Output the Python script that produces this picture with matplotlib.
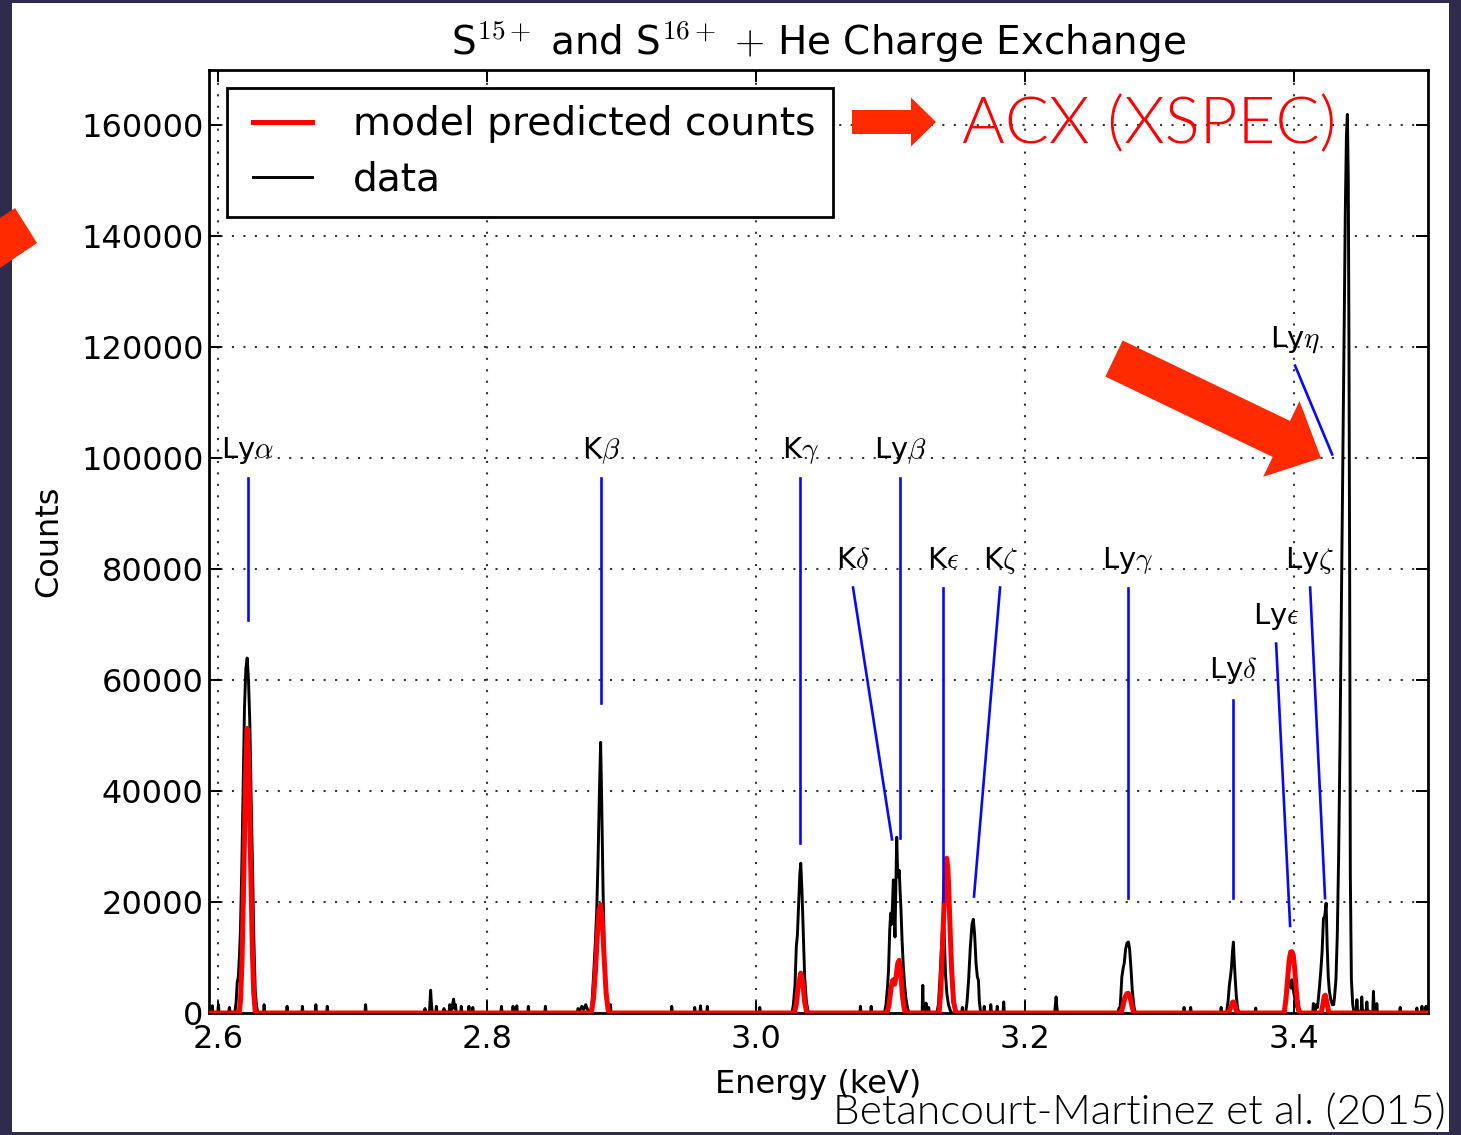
import matplotlib
matplotlib.use('Agg')
import matplotlib.pyplot as plt
from matplotlib.patches import Rectangle, FancyArrow, Polygon
from matplotlib.legend_handler import HandlerLine2D

plt.rcParams['mathtext.fontset'] = 'cm'
plt.rcParams['font.family'] = ['DejaVu Sans']

# ---------------- data ----------------
data_points = [
    (2.5930, 0), (2.5950, 0), (2.5955, 1300), (2.5960, 0),
    (2.5995, 0), (2.6000, 1500), (2.6005, 0),
    (2.6075, 0), (2.6082, 1000), (2.6088, 0),
    # Ly alpha
    (2.6122, 0), (2.6132, 2000), (2.6140, 5500), (2.6148, 6500), (2.6156, 10000),
    (2.6164, 15000), (2.6174, 26000), (2.6184, 40000), (2.6194, 55000), (2.6204, 62000),
    (2.6214, 64000), (2.6224, 60000), (2.6234, 52000), (2.6244, 38000), (2.6254, 26000),
    (2.6264, 13000), (2.6274, 4000), (2.6284, 1200), (2.6294, 0),
    (2.6335, 0), (2.6340, 1500), (2.6345, 0),
    (2.6506, 0), (2.6511, 1200), (2.6516, 0),
    (2.6620, 0), (2.6625, 1200), (2.6630, 0),
    (2.6720, 0), (2.6725, 1500), (2.6730, 0),
    (2.6805, 0), (2.6810, 1200), (2.6815, 0),
    (2.7090, 0), (2.7095, 1500), (2.7100, 0),
    (2.7530, 0), (2.7537, 800), (2.7545, 0), (2.7570, 0), (2.7575, 2500), (2.7579, 4100),
    (2.7584, 2000), (2.7590, 300), (2.7600, 0), (2.7617, 0), (2.7622, 1200), (2.7627, 0),
    (2.7673, 0), (2.7678, 800), (2.7683, 300), (2.7716, 0), (2.7721, 1500), (2.7735, 600),
    (2.7750, 2500), (2.7757, 800), (2.7764, 1500), (2.7770, 0), (2.7802, 0), (2.7807, 1200),
    (2.7812, 0), (2.7859, 0), (2.7864, 1200), (2.7869, 0), (2.7888, 0), (2.7893, 1000), (2.7898, 0),
    (2.8101, 0), (2.8106, 1200), (2.8111, 0), (2.8187, 0), (2.8192, 1200), (2.8197, 300),
    (2.8215, 0), (2.8220, 1300), (2.8225, 0), (2.8301, 0), (2.8306, 1200), (2.8311, 0),
    (2.8428, 0), (2.8433, 1200), (2.8438, 0),
    (2.8670, 0), (2.8675, 800), (2.8690, 500), (2.8704, 1200), (2.8718, 600), (2.8733, 1500), (2.8745, 700),
    # K beta
    (2.8770, 0), (2.8780, 2000), (2.8792, 7000), (2.8805, 13000), (2.8815, 18500), (2.8825, 28000),
    (2.8835, 40000), (2.8844, 48800), (2.8852, 38000), (2.8862, 22000), (2.8872, 10000),
    (2.8882, 3500), (2.8895, 1000), (2.8905, 0),
    (2.8912, 0), (2.8917, 1500), (2.8922, 0),
    (2.9368, 0), (2.9373, 1200), (2.9378, 0),
    (2.9539, 0), (2.9544, 1000), (2.9549, 0), (2.9582, 0), (2.9587, 1300), (2.9592, 0),
    (2.9633, 0), (2.9638, 1200), (2.9643, 0),
    (3.0023, 0), (3.0028, 1000), (3.0033, 0),
    # K gamma
    (3.0268, 0), (3.0278, 1500), (3.0290, 5000), (3.0300, 12000), (3.0308, 14000), (3.0318, 20000),
    (3.0326, 25000), (3.0333, 27000), (3.0342, 22000), (3.0352, 14000), (3.0362, 6500),
    (3.0375, 2000), (3.0390, 0),
    (3.0772, 0), (3.0777, 1200), (3.0782, 0), (3.0852, 0), (3.0857, 1200), (3.0862, 0),
    # K delta / Ly beta
    (3.0955, 0), (3.0967, 1500), (3.0978, 4500), (3.0986, 7700), (3.0995, 15000), (3.1002, 18000),
    (3.1010, 16000), (3.1016, 20000), (3.1022, 24000), (3.1028, 19000), (3.1034, 13700),
    (3.1040, 22000), (3.1047, 31700), (3.1053, 26000), (3.1059, 24500), (3.1066, 25700),
    (3.1072, 22000), (3.1078, 19000), (3.1087, 13000), (3.1096, 8500), (3.1106, 5000),
    (3.1116, 2500), (3.1128, 800), (3.1140, 0),
    (3.1236, 0), (3.1241, 5000), (3.1246, 0), (3.1260, 0), (3.1265, 1800), (3.1270, 0),
    (3.1280, 0), (3.1285, 1000), (3.1290, 0),
    # K epsilon
    (3.1345, 0), (3.1357, 1500), (3.1368, 6000), (3.1378, 11000), (3.1387, 15000), (3.1394, 17100),
    (3.1402, 13000), (3.1410, 7000), (3.1420, 3500), (3.1432, 1500), (3.1445, 500), (3.1455, 0),
    (3.1530, 0), (3.1535, 1000), (3.1540, 0),
    # K zeta
    (3.1560, 0), (3.1570, 2000), (3.1582, 6000), (3.1595, 12000), (3.1607, 16000), (3.1617, 16900),
    (3.1627, 14000), (3.1637, 9000), (3.1647, 6500), (3.1655, 5900), (3.1662, 2000), (3.1672, 0),
    (3.1693, 0), (3.1698, 1200), (3.1703, 0), (3.1742, 0), (3.1747, 1500), (3.1752, 0),
    (3.1790, 0), (3.1795, 1200), (3.1800, 0), (3.1838, 0), (3.1843, 2000), (3.1848, 0),
    (3.2222, 0), (3.2228, 1500), (3.2233, 2900), (3.2238, 1200), (3.2244, 0),
    # Ly gamma
    (3.2695, 0), (3.2700, 800), (3.2706, 500), (3.2712, 2000), (3.2722, 6500), (3.2732, 8100),
    (3.2740, 9000), (3.2750, 11500), (3.2760, 12600), (3.2771, 12800), (3.2780, 11500),
    (3.2790, 8000), (3.2800, 4000), (3.2812, 1200), (3.2822, 0),
    (3.3180, 0), (3.3185, 1000), (3.3190, 0), (3.3229, 0), (3.3234, 1000), (3.3239, 0),
    (3.3456, 0), (3.3461, 1000), (3.3466, 0),
    # Ly delta
    (3.3500, 0), (3.3512, 2000), (3.3522, 5000), (3.3529, 6300), (3.3537, 8000), (3.3545, 11000),
    (3.3552, 12800), (3.3558, 9500), (3.3566, 6000), (3.3574, 3000), (3.3584, 800), (3.3594, 0),
    (3.3713, 0), (3.3718, 900), (3.3723, 0),
    # Ly epsilon
    (3.3925, 0), (3.3937, 1500), (3.3947, 3800), (3.3957, 5000), (3.3965, 6000), (3.3972, 5000),
    (3.3980, 4500), (3.3988, 6000), (3.3996, 4500), (3.4006, 3000), (3.4018, 1500), (3.4030, 500),
    (3.4040, 0),
    (3.4142, 0), (3.4147, 1700), (3.4152, 0),
    # Ly zeta + strong line
    (3.4160, 0), (3.4168, 1500), (3.4178, 1000), (3.4190, 4000), (3.4202, 7500), (3.4212, 11000),
    (3.4222, 17000), (3.4232, 17500), (3.4242, 19800), (3.4250, 12000), (3.4258, 6500),
    (3.4266, 4000), (3.4276, 2500), (3.4288, 1500), (3.4298, 1500), (3.4305, 3000),
    (3.4315, 6000), (3.4325, 14000), (3.4335, 28000), (3.4345, 48000), (3.4355, 72000),
    (3.4365, 95000), (3.4375, 120000), (3.4385, 145000), (3.4393, 158000), (3.4400, 162000),
    (3.4407, 150000), (3.4412, 120000), (3.4417, 80000), (3.4422, 25000), (3.4430, 6000),
    (3.4440, 1500), (3.4450, 0),
    (3.4466, 0), (3.4471, 2400), (3.4476, 500), (3.4502, 0), (3.4507, 2900), (3.4512, 600),
    (3.4540, 0), (3.4545, 2000), (3.4550, 400), (3.4589, 0), (3.4594, 3900), (3.4599, 800),
    (3.4614, 0), (3.4619, 1700), (3.4624, 0),
    (3.4788, 0), (3.4793, 1000), (3.4798, 0), (3.4912, 0), (3.4917, 900), (3.4922, 0),
    (3.4950, 0), (3.4955, 1200), (3.4960, 0), (3.4980, 0), (3.4985, 1200), (3.4990, 0),
    (3.5000, 0),
]

model_points = [
    (2.5930, 0),
    (2.6155, 0), (2.6165, 2500), (2.6175, 9000), (2.6185, 20000), (2.6195, 33000), (2.6205, 45000),
    (2.6214, 51300), (2.6223, 47000), (2.6233, 36000), (2.6243, 23000), (2.6253, 11000),
    (2.6263, 3500), (2.6275, 0),
    (2.8775, 0), (2.8790, 2500), (2.8805, 7500), (2.8818, 13500), (2.8832, 18500), (2.8844, 19500),
    (2.8856, 17000), (2.8870, 10000), (2.8885, 3500), (2.8900, 500), (2.8910, 0),
    (3.0285, 0), (3.0300, 1500), (3.0315, 5000), (3.0333, 7200), (3.0348, 5500), (3.0362, 2000),
    (3.0378, 0),
    (3.0975, 0), (3.0990, 1500), (3.1005, 4500), (3.1015, 5800), (3.1022, 6000), (3.1032, 5200),
    (3.1042, 6500), (3.1055, 9000), (3.1066, 9500), (3.1078, 7000), (3.1090, 3000), (3.1103, 700),
    (3.1112, 0),
    (3.1362, 0), (3.1375, 4000), (3.1388, 12000), (3.1400, 20000), (3.1410, 26000), (3.1419, 27900),
    (3.1428, 26000), (3.1440, 18000), (3.1455, 8000), (3.1470, 2000), (3.1488, 0),
    (3.2715, 0), (3.2730, 1200), (3.2745, 2800), (3.2760, 3500), (3.2771, 3550), (3.2782, 3000),
    (3.2795, 1500), (3.2810, 0),
    (3.3515, 0), (3.3530, 900), (3.3545, 1900), (3.3552, 2000), (3.3562, 1500), (3.3575, 300),
    (3.3585, 0),
    (3.3930, 0), (3.3943, 2500), (3.3955, 6000), (3.3967, 9500), (3.3978, 11000), (3.3987, 11060),
    (3.3997, 10500), (3.4008, 8000), (3.4020, 4000), (3.4032, 1200), (3.4045, 0),
    (3.4205, 0), (3.4218, 1500), (3.4228, 3000), (3.4236, 3200), (3.4245, 2200), (3.4258, 500),
    (3.4268, 0),
    (3.5000, 0),
]

data_energy = [p[0] for p in data_points]
data_counts = [p[1] for p in data_points]
model_energy = [p[0] for p in model_points]
model_counts = [p[1] for p in model_points]

line_labels = ['Ly$\\alpha$', 'K$\\beta$', 'K$\\gamma$', 'Ly$\\beta$', 'K$\\delta$', 'K$\\epsilon$',
               'K$\\zeta$', 'Ly$\\gamma$', 'Ly$\\delta$', 'Ly$\\epsilon$', 'Ly$\\zeta$', 'Ly$\\eta$']
label_energy = [2.6220, 2.8847, 3.0327, 3.1072, 3.0722, 3.1392, 3.1816, 3.2768, 3.3550, 3.3870, 3.4123, 3.4011]
label_counts = [100100, 100100, 100100, 100100, 80300, 80300, 80300, 80300, 60400, 70200, 80300, 120100]
line_top_counts = [96500, 96500, 96500, 96500, 76700, 76700, 76700, 76700, 56500, 66600, 76700, 116700]
line_end_energy = [2.6220, 2.8847, 3.0327, 3.1072, 3.1012, 3.1392, 3.1622, 3.2768, 3.3550, 3.3974, 3.4234, 3.4287]
line_end_counts = [70900, 55900, 30700, 31500, 31300, 20200, 21000, 20700, 20700, 15700, 20700, 100700]

x_ticks = [2.6, 2.8, 3.0, 3.2, 3.4]
x_tick_labels = ['2.6', '2.8', '3.0', '3.2', '3.4']
y_ticks = [0, 20000, 40000, 60000, 80000, 100000, 120000, 140000, 160000]
y_tick_labels = ['0', '20000', '40000', '60000', '80000', '100000', '120000', '140000', '160000']

# ---------------- figure ----------------
W, H = 1461, 1135
fig = plt.figure(figsize=(W / 100, H / 100), dpi=100)
fig.patch.set_facecolor('#2e2b4d')

bg = fig.add_axes([0, 0, 1, 1], zorder=0)
bg.set_xlim(0, W); bg.set_ylim(H, 0); bg.axis('off')
bg.add_patch(Rectangle((12, 3), 1437, 1129, facecolor='white', edgecolor='none'))

ax = fig.add_axes([209 / W, (H - 1013) / H, 1219 / W, 943 / H], zorder=1)
ax.set_facecolor('white')
l_data, = ax.plot(data_energy, data_counts, color='black', lw=2.1, zorder=3)
l_model, = ax.plot(model_energy, model_counts, color='red', lw=3.6, zorder=4)

for lab, xe, yc, yt, xe2, yc2 in zip(line_labels, label_energy, label_counts, line_top_counts,
                                     line_end_energy, line_end_counts):
    ax.plot([xe, xe2], [yt, yc2], color='#0a0aee', lw=1.9, zorder=5)
    ax.text(xe, yc, lab, ha='center', va='baseline', fontsize=21, zorder=6)

ax.set_xlim(2.593, 3.5)
ax.set_ylim(0, 170000)
ax.set_xticks(x_ticks)
ax.set_xticklabels(x_tick_labels)
ax.set_yticks(y_ticks)
ax.set_yticklabels(y_tick_labels)
ax.tick_params(axis='both', direction='in', length=8.5, width=1.4, top=True, right=True,
               labelsize=23, colors='black')
ax.tick_params(axis='x', pad=8)
ax.tick_params(axis='y', pad=4)
for s in ax.spines.values():
    s.set_linewidth(2.0)
ax.grid(True, color='#333333', linestyle=(0, (1, 4.5)), linewidth=1.5)
ax.set_axisbelow(True)

ax.set_xlabel('Energy (keV)', fontsize=23, labelpad=10)
ax.set_ylabel('Counts', fontsize=23, labelpad=12)
ax.set_title('S$^{15+}$ and S$^{16+}$ $+$ He Charge Exchange', fontsize=28, pad=11)

hmap = {l_model: HandlerLine2D(xpad=0.22), l_data: HandlerLine2D(xpad=0.22)}
leg = ax.legend([l_model, l_data], ['model predicted counts', 'data'], loc='upper left',
                fontsize=28.2, fancybox=False, framealpha=1, edgecolor='black',
                borderpad=0.45, labelspacing=0.45, handlelength=1.72, handletextpad=1.05,
                borderaxespad=0.45, handler_map=hmap)
leg.get_frame().set_linewidth(2.0)
leg.set_zorder(10)

# ---------------- slide overlay ----------------
ov = fig.add_axes([0, 0, 1, 1], zorder=5)
ov.set_xlim(0, W); ov.set_ylim(H, 0); ov.axis('off')
ov.patch.set_alpha(0)
arrow_red = '#ff2a00'
ov.add_patch(FancyArrow(852, 122, 84, 0, width=24, head_width=49, head_length=25,
                        length_includes_head=True, color=arrow_red, lw=0))
ov.add_patch(FancyArrow(1114, 358.5, 207, 99.5, width=40, head_width=84, head_length=44,
                        length_includes_head=True, color=arrow_red, lw=0))
ov.add_patch(Polygon([(0, 218), (15, 208), (37, 243), (0, 268)], closed=True,
                     color=arrow_red, lw=0))
ov.text(962, 125, 'ACX (XSPEC)', color='#ff0000', fontsize=47, family=['Lato', 'DejaVu Sans'],
        fontweight=300, ha='left', va='center')
ov.text(1446, 1125, 'Betancourt-Martinez et al. (2015)', color='black', fontsize=30.5,
        family=['Lato', 'DejaVu Sans'], fontweight=300, ha='right', va='baseline')

fig.savefig('out.png', dpi=100, facecolor=fig.get_facecolor())
